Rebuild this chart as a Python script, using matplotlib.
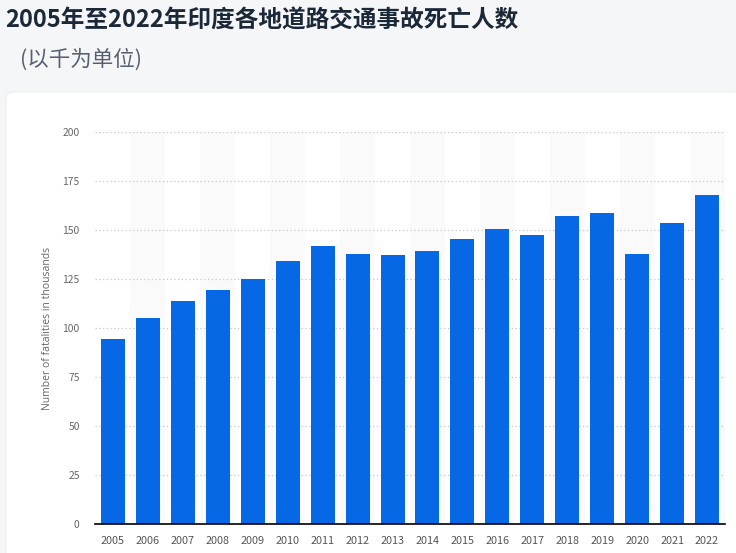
import numpy as np
import matplotlib
matplotlib.use('Agg')
import matplotlib.pyplot as plt
from matplotlib.patches import FancyBboxPatch

plt.rcParams['font.family'] = ['Noto Sans CJK SC', 'DejaVu Sans']

# 数据
years = ['2005', '2006', '2007', '2008', '2009', '2010', '2011', '2012', '2013',
         '2014', '2015', '2016', '2017', '2018', '2019', '2020', '2021', '2022']
deaths = [94.4, 105.1, 113.8, 119.4, 125.0, 134.2, 141.8, 137.8, 137.2,
          139.3, 145.4, 150.5, 147.4, 157.1, 158.7, 137.8, 153.6, 167.9]
yticks = [0, 25, 50, 75, 100, 125, 150, 175, 200]

title = '2005年至2022年印度各地道路交通事故死亡人数'
subtitle = '(以千为单位)'
ylabel = 'Number of fatalities in thousands'

W, H = 736, 553
fig = plt.figure(figsize=(W / 100, H / 100), dpi=100)
fig.patch.set_facecolor('#f5f6f8')

# 白色卡片
card = FancyBboxPatch((6 / W, -0.05), 1.0, (H - 92) / H + 0.05,
                      boxstyle='round,pad=0,rounding_size=0.012',
                      transform=fig.transFigure, facecolor='white',
                      edgecolor='#eceef1', linewidth=0.8, zorder=-5)
fig.patches.append(card)

fig.text(5 / W, 1 - 20 / H, title, fontsize=17, fontweight='bold',
         color='#1b2838', ha='left', va='center')
fig.text(20 / W, 1 - 60 / H, subtitle, fontsize=15.5, style='italic',
         color='#56606e', ha='left', va='center')

ax = fig.add_axes([95 / W, (H - 524) / H, (725 - 95) / W, (524 - 132) / H])
ax.set_facecolor('none')
ax.set_zorder(2)

x = np.arange(len(years))
# 交替背景条
for i in x:
    if i % 2 == 1:
        ax.axvspan(i - 0.5, i + 0.5, color='#fafafa', zorder=0, lw=0)

ax.bar(x, deaths, width=0.686, color='#0768e5', zorder=3)

ax.set_xlim(-0.514, len(years) - 0.486)
ax.set_ylim(0, 200)
ax.set_yticks(yticks)
ax.set_yticklabels([str(v) for v in yticks], fontsize=7.4, color='#666666')
ax.set_xticks(x)
ax.set_xticklabels(years, fontsize=7.8, color='#555555')
ax.tick_params(axis='both', length=0)
ax.tick_params(axis='y', pad=11)
ax.tick_params(axis='x', pad=9)

ax.grid(axis='y', linestyle=(0, (1, 2)), color='#c8c8c8', linewidth=0.9, zorder=1)
for s in ['top', 'right', 'left']:
    ax.spines[s].set_visible(False)
ax.spines['bottom'].set_color('black')
ax.spines['bottom'].set_linewidth(1.2)
ax.spines['bottom'].set_zorder(4)

ax.set_ylabel(ylabel, fontsize=7.5, color='#666666', labelpad=7,
              family=['Open Sans', 'DejaVu Sans'])

fig.savefig('out.png', dpi=100, facecolor=fig.get_facecolor())
